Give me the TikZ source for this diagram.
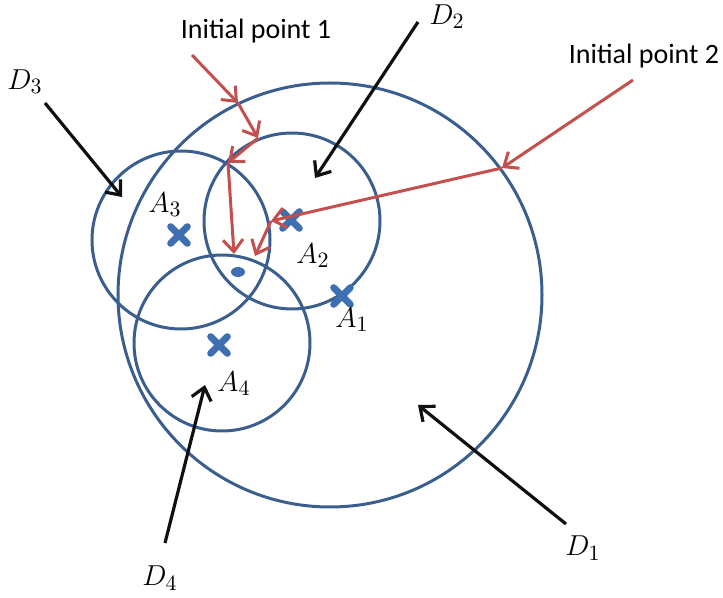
\documentclass[tikz,border=0pt]{standalone}
\usepackage{fontspec}
\newfontfamily\calib{Carlito}
\usepackage{tikz}
\usetikzlibrary{arrows.meta, shapes.misc}
\definecolor{ring}{HTML}{3A5F8F}
\definecolor{xblue}{HTML}{3F6FB3}
\definecolor{redd}{HTML}{C4504D}
\definecolor{ink}{HTML}{101010}

\begin{document}
\begin{tikzpicture}[x=0.5pt, y=-0.5pt,
  ring/.style={draw=ring, line width=1.5pt},
  pin/.style={ink, line width=1.6pt, -{Straight Barb[length=6pt, width=10pt]}},
  hop/.style={redd, line width=1.5pt, -{Straight Barb[length=6pt, width=10pt]}},
  cross/.style={draw=xblue, cross out, line width=3.4pt, minimum size=5pt, inner sep=0pt, line cap=round},
  lab/.style={font=\fontsize{15}{17}\selectfont},
  txt/.style={font=\calib\fontsize{14}{16}\selectfont}]
  \useasboundingbox (0,0) rectangle (723,598);
  % the big domain and the three small ones
  \foreach \cx/\cy/\r in {330/295/212, 292/221/88, 181/240/89, 222/343/88}
    \draw[ring] (\cx,\cy) circle[radius=\r];
  % anchor points
  \foreach \n/\px/\py in {1/342/296, 2/291/220, 3/179/235, 4/219/345}
    \node[cross] (A\n) at (\px,\py) {};
  \node[lab] (lA1) at (352,320) {$A_1$};
  \node[lab] (lA2) at (313,256) {$A_2$};
  \node[lab] (lA3) at (165,205) {$A_3$};
  \node[lab] (lA4) at (234,384) {$A_4$};
  \fill[xblue] (238,272) ellipse[x radius=7, y radius=5];
  % domain labels with pointers
  \node[lab] (lD1) at (583,548) {$D_1$};
  \node[lab] (lD2) at (447,17) {$D_2$};
  \node[lab] (lD3) at (25,82) {$D_3$};
  \node[lab] (lD4) at (160,578) {$D_4$};
  \foreach \n/\sx/\sy/\tx/\ty in {1/566/524/418/405, 2/418/22/315/178,
                                  3/45/103/122/197, 4/165/543/205/385}{
    \coordinate (s\n) at (\sx,\sy);
    \coordinate (t\n) at (\tx,\ty);
    \draw[pin] (s\n) -- (t\n);
  }
  % the two iterations, one hop after another
  \node[txt] (ip1) at (256,31) {Initial point 1};
  \node[txt] (ip2) at (644,56) {Initial point 2};
  \coordinate (p1a) at (192,55);
  \coordinate (p1b) at (238,103);
  \coordinate (p1c) at (258,138);
  \coordinate (p1d) at (228,163);
  \coordinate (p1e) at (234,254);
  \coordinate (p2a) at (633,80);
  \coordinate (p2b) at (502,168);
  \coordinate (p2c) at (271,221);
  \coordinate (p2d) at (255,256);
  \foreach \u/\v in {p1a/p1b, p1b/p1c, p1c/p1d, p1d/p1e, p2a/p2b, p2b/p2c, p2c/p2d}
    \draw[hop] (\u) -- (\v);
\end{tikzpicture}
\end{document}
